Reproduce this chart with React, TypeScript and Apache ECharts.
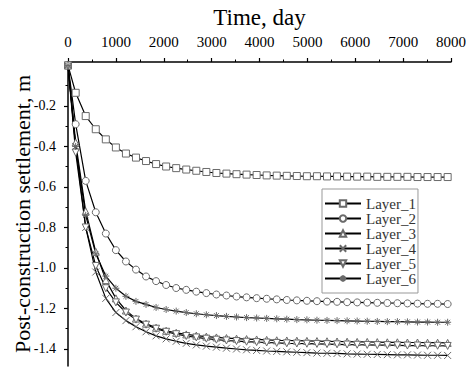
import React, { useEffect, useRef } from "react";
import * as echarts from "echarts";

const times = [0, 160, 370, 580, 790, 1000, 1210, 1420, 1630, 1840, 2050, 2260, 2470, 2680, 2890, 3100, 3310, 3520, 3730, 3940, 4150, 4360, 4570, 4780, 4990, 5200, 5410, 5620, 5830, 6040, 6250, 6460, 6670, 6880, 7090, 7300, 7510, 7720, 7930];

const layer1 = [0, -0.135, -0.25, -0.315, -0.365, -0.405, -0.435, -0.455, -0.472, -0.487, -0.499, -0.507, -0.514, -0.52, -0.526, -0.531, -0.534, -0.537, -0.539, -0.541, -0.543, -0.544, -0.545, -0.546, -0.547, -0.547, -0.548, -0.548, -0.549, -0.549, -0.549, -0.55, -0.55, -0.55, -0.55, -0.551, -0.551, -0.551, -0.551];
const layer2 = [0, -0.29, -0.57, -0.725, -0.83, -0.912, -0.968, -1.008, -1.042, -1.065, -1.084, -1.099, -1.108, -1.117, -1.124, -1.131, -1.136, -1.141, -1.145, -1.149, -1.152, -1.155, -1.158, -1.16, -1.162, -1.164, -1.166, -1.167, -1.169, -1.17, -1.171, -1.172, -1.173, -1.174, -1.175, -1.176, -1.177, -1.177, -1.178];
const layer3 = [0, -0.38, -0.72, -0.92, -1.06, -1.15, -1.21, -1.25, -1.275, -1.295, -1.31, -1.32, -1.328, -1.334, -1.339, -1.343, -1.346, -1.349, -1.351, -1.353, -1.355, -1.357, -1.358, -1.359, -1.36, -1.361, -1.362, -1.363, -1.364, -1.365, -1.365, -1.366, -1.367, -1.367, -1.368, -1.368, -1.369, -1.369, -1.37];
const layer4 = [0, -0.4, -0.8, -1.02, -1.15, -1.22, -1.26, -1.29, -1.315, -1.335, -1.35, -1.362, -1.372, -1.38, -1.386, -1.391, -1.396, -1.4, -1.404, -1.407, -1.41, -1.412, -1.414, -1.416, -1.418, -1.42, -1.421, -1.422, -1.424, -1.425, -1.426, -1.427, -1.428, -1.429, -1.429, -1.43, -1.431, -1.431, -1.432];
const layer5 = [0, -0.43, -0.8, -0.99, -1.1, -1.17, -1.22, -1.255, -1.28, -1.3, -1.315, -1.327, -1.336, -1.343, -1.349, -1.354, -1.358, -1.361, -1.364, -1.366, -1.368, -1.37, -1.372, -1.373, -1.374, -1.375, -1.376, -1.377, -1.378, -1.379, -1.38, -1.381, -1.381, -1.382, -1.383, -1.383, -1.384, -1.384, -1.385];
const layer6 = [0, -0.4, -0.74, -0.93, -1.04, -1.1, -1.14, -1.165, -1.18, -1.195, -1.205, -1.213, -1.22, -1.226, -1.231, -1.235, -1.239, -1.242, -1.245, -1.247, -1.249, -1.251, -1.253, -1.255, -1.256, -1.258, -1.259, -1.26, -1.261, -1.262, -1.263, -1.264, -1.265, -1.265, -1.266, -1.267, -1.267, -1.268, -1.268];

const seriesNames = ["Layer_1", "Layer_2", "Layer_3", "Layer_4", "Layer_5", "Layer_6"];
const seriesValues = [layer1, layer2, layer3, layer4, layer5, layer6];
const seriesSymbols = [
  "rect",
  "circle",
  "triangle",
  "path://M0,0L10,10M10,0L0,10",
  "path://M0,0L10,0L5,9Z",
  "path://M0,5L10,5M1.5,1.5L8.5,8.5M8.5,1.5L1.5,8.5M5,0L5,10",
];

const xTicks = [0, 1000, 2000, 3000, 4000, 5000, 6000, 7000, 8000];
const yLabels = [-1.4, -1.2, -1.0, -0.8, -0.6, -0.4, -0.2];
const yMinor = [-1.3, -1.1, -0.9, -0.7, -0.5, -0.3, -0.1];

const FONT = "Liberation Serif";

export default function App() {
  const ref = useRef<HTMLDivElement>(null);
  useEffect(() => {
    if (!ref.current) return;
    const chart = echarts.init(ref.current, null, { renderer: "svg" });
    const series = seriesNames.map((name, i) => ({
      name,
      type: "line",
      data: times.map((t, j) => [t, seriesValues[i][j]]),
      symbol: seriesSymbols[i],
      symbolSize: 7,
      showSymbol: true,
      silent: true,
      lineStyle: { color: "#000", width: 1.2 },
      itemStyle: { color: "#fff", borderColor: "#6a6a6a", borderWidth: 1 },
      emphasis: { disabled: true },
      z: 2,
    }));
    chart.setOption({
      animation: false,
      backgroundColor: "#fff",
      grid: { left: 68, right: 15, top: 62, bottom: 5, containLabel: false, outerBoundsMode: "none" },
      legend: {
        data: seriesNames,
        orient: "vertical",
        left: 322,
        top: 189,
        itemWidth: 36,
        itemHeight: 8,
        itemGap: 0,
        padding: [7, 2, 7, 2],
        borderColor: "#999",
        borderWidth: 1,
        backgroundColor: "#fff",
        textStyle: { fontFamily: FONT, fontSize: 15, color: "#333", lineHeight: 13.7 },
      },
      xAxis: {
        type: "value",
        position: "top",
        min: 0,
        max: 8000,
        interval: 1000,
        name: "Time, day",
        nameLocation: "middle",
        nameGap: 33,
        nameTextStyle: { fontFamily: FONT, fontSize: 23, color: "#000" },
        axisLine: { show: true, onZero: false, lineStyle: { color: "#000", width: 1.5 } },
        axisTick: { show: true, length: 4, lineStyle: { color: "#000", width: 1.2 } },
        minorTick: { show: true, splitNumber: 2, length: 2.5, lineStyle: { color: "#000", width: 1 } },
        splitLine: { show: false },
        axisLabel: {
          fontFamily: FONT,
          fontSize: 15,
          color: "#000",
          margin: 13,
          customValues: xTicks,
          formatter: (v: number) => String(Math.round(v)),
        },
      },
      yAxis: [
        {
          type: "value",
          min: -1.484,
          max: 0.017,
          name: "Post-construction settlement, m",
          nameLocation: "middle",
          nameGap: 35,
          nameMoveOverlap: false,
          nameTextStyle: { fontFamily: FONT, fontSize: 22, color: "#000" },
          axisLine: { show: true, onZero: false, lineStyle: { color: "#000", width: 1.5 } },
          axisTick: { show: true, length: 4, lineStyle: { color: "#000", width: 1.2 }, customValues: yLabels },
          splitLine: { show: false },
          axisLabel: {
            fontFamily: FONT,
            fontSize: 14,
            color: "#000",
            margin: 12,
            customValues: yLabels,
            formatter: (v: number) => v.toFixed(1),
          },
        },
        {
          type: "value",
          position: "left",
          min: -1.484,
          max: 0.017,
          axisLine: { show: false },
          axisTick: { show: true, length: 2.5, lineStyle: { color: "#000", width: 1 }, customValues: yMinor },
          axisLabel: { show: false },
          splitLine: { show: false },
        },
      ],
      series,
    });
    return () => chart.dispose();
  }, []);
  return <div ref={ref} style={{ width: 466, height: 371, position: "absolute", left: 0, top: 0 }} />;
}
